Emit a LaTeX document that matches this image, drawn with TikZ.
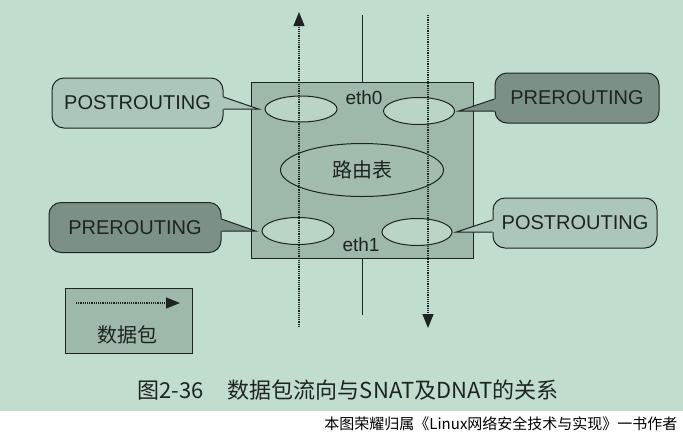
\documentclass[tikz,border=0pt]{standalone}
\usepackage{fontspec}
\setmainfont{Liberation Sans}
\newfontfamily\cjk{Noto Sans CJK SC}
\usepackage{tikz}
\usetikzlibrary{arrows.meta,shapes.geometric}

\definecolor{paper}{RGB}{192,221,206}
\definecolor{boxfill}{RGB}{158,184,170}
\definecolor{lightcall}{RGB}{172,199,185}
\definecolor{darkcall}{RGB}{124,145,134}
\definecolor{ringfill}{RGB}{186,212,198}
\definecolor{ink}{RGB}{30,36,33}

\tikzset{
  callout/.style={draw=ink,line width=1pt,rounded corners=12pt,minimum height=50pt,inner sep=0pt,font=\fontsize{20}{22}\selectfont},
  calllight/.style={callout,fill=lightcall},
  calldark/.style={callout,fill=darkcall},
  ring/.style={ellipse,draw=ink,line width=1pt,fill=ringfill,inner sep=0pt},
  packet/.style={ink,line width=1.2pt,densely dotted,-{Triangle[width=11pt,length=14pt]}}
}

\begin{document}
\begin{tikzpicture}[x=1pt,y=1pt]
\tikzstyle{every node}+=[text=ink]
\fill [paper] (0,0) rectangle (683,-437);
\fill [white] (0,-411) rectangle (683,-437);
\useasboundingbox (0,0) rectangle (683,-437);
\node [draw=ink,line width=1pt,fill=boxfill,minimum width=222pt,minimum height=176pt] (router) at (362,-170) {};
\node [ring,minimum width=72pt,minimum height=26pt] (e0in) at (301,-109) {};
\node [ring,minimum width=71pt,minimum height=27pt] (e0out) at (419,-111) {};
\node [ring,minimum width=72pt,minimum height=27pt] (e1in) at (298,-231) {};
\node [ring,minimum width=70pt,minimum height=27pt] (e1out) at (417,-232) {};
\node [ring,fill=boxfill!85!ringfill,minimum width=163pt,minimum height=53pt,font=\cjk\fontsize{20}{22}\selectfont] (rtable) at (362,-170) {路由表};
\node [font=\fontsize{19}{21}\selectfont] (eth0) at (364,-98) {eth0};
\node [font=\fontsize{19}{21}\selectfont] (eth1) at (361,-245) {eth1};
\node [calllight,minimum width=171pt] (postA) at (137.5,-103) {POSTROUTING};
\node [calldark,minimum width=164pt] (preA) at (577,-98) {PREROUTING};
\node [calldark,minimum width=172pt] (preB) at (135,-227.5) {PREROUTING};
\node [calllight,minimum width=164pt] (postB) at (575,-223) {POSTROUTING};
\coordinate (tipA) at ([xshift=-6pt]e0in.west);
\coordinate (tipB) at ([xshift=4pt]e0out.east);
\coordinate (tipC) at ([xshift=-6pt]e1in.west);
\coordinate (tipD) at ([xshift=4pt]e1out.east);
\fill [lightcall] ([xshift=-1.5pt,yshift=12pt]postA.east |- tipA) -- (tipA) -- ([xshift=-1.5pt]postA.east |- tipA) -- cycle;
\draw [ink,line width=1pt] ([yshift=12pt]postA.east |- tipA) -- (tipA) -- (postA.east |- tipA);
\fill [darkcall] ([xshift=1.5pt,yshift=12pt]preA.west |- tipB) -- (tipB) -- ([xshift=1.5pt]preA.west |- tipB) -- cycle;
\draw [ink,line width=1pt] ([yshift=12pt]preA.west |- tipB) -- (tipB) -- (preA.west |- tipB);
\fill [darkcall] ([xshift=-1.5pt,yshift=12pt]preB.east |- tipC) -- (tipC) -- ([xshift=-1.5pt]preB.east |- tipC) -- cycle;
\draw [ink,line width=1pt] ([yshift=12pt]preB.east |- tipC) -- (tipC) -- (preB.east |- tipC);
\fill [lightcall] ([xshift=1.5pt,yshift=12pt]postB.west |- tipD) -- (tipD) -- ([xshift=1.5pt]postB.west |- tipD) -- cycle;
\draw [ink,line width=1pt] ([yshift=12pt]postB.west |- tipD) -- (tipD) -- (postB.west |- tipD);
\coordinate (wireTop) at (362,-15);
\coordinate (wireBot) at (362,-315);
\draw [ink,line width=1pt] (wireTop) -- (router.north);
\draw [ink,line width=1pt] (router.south) -- (wireBot);
\coordinate (outFrom) at (299,-327);
\coordinate (outTo) at (299,-12);
\coordinate (inFrom) at (428,-15);
\coordinate (inTo) at (428,-328);
\draw [packet] (outFrom) -- (outTo);
\draw [packet] (inFrom) -- (inTo);
\node [draw=ink,line width=1pt,fill=boxfill,minimum width=127pt,minimum height=65pt] (legend) at (128.5,-320.5) {};
\coordinate (keyFrom) at (76,-303);
\coordinate (keyTo) at (180,-303);
\draw [packet] (keyFrom) -- (keyTo);
\node [font=\cjk\fontsize{20}{22}\selectfont] (keyText) at (127,-335) {数据包};
\node [font=\cjk\fontsize{22}{24}\selectfont] (caption) at (348,-390) {图2-36\hspace{1.1em}数据包流向与SNAT及DNAT的关系};
\node [anchor=east,font=\cjk\fontsize{15}{17}\selectfont,text=black] (credit) at (681,-424) {本图荣耀归属《Linux网络安全技术与实现》一书作者};
\end{tikzpicture}
\end{document}
